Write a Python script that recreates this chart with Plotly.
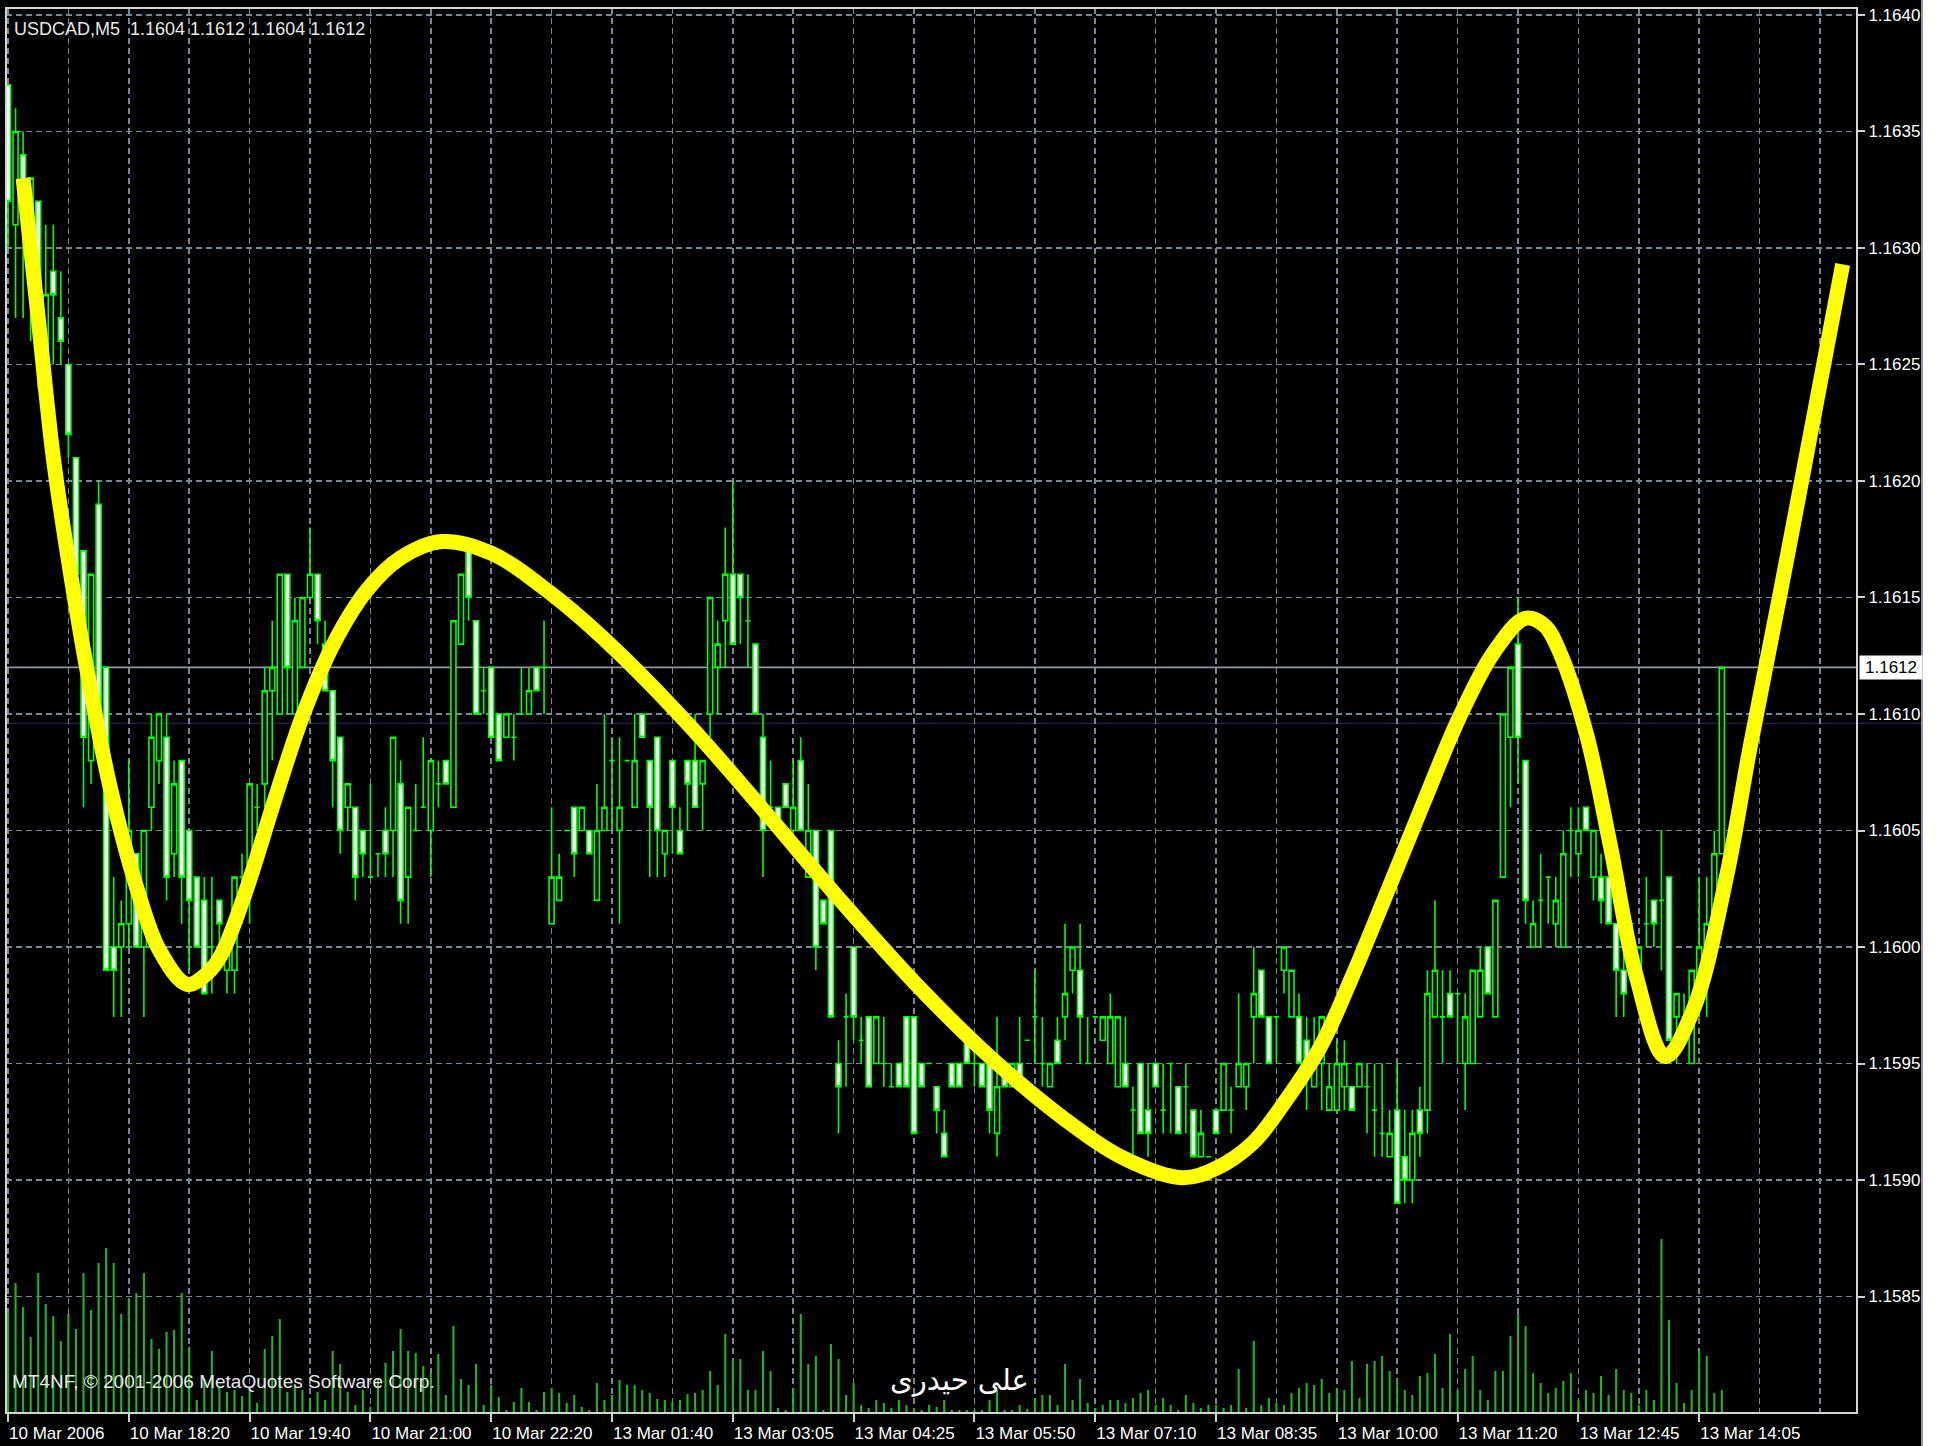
import plotly.graph_objects as go

# ---------------- data ----------------
time_labels = ["10 Mar 2006", "10 Mar 18:20", "10 Mar 19:40", "10 Mar 21:00", "10 Mar 22:20",
               "13 Mar 01:40", "13 Mar 03:05", "13 Mar 04:25", "13 Mar 05:50", "13 Mar 07:10",
               "13 Mar 08:35", "13 Mar 10:00", "13 Mar 11:20", "13 Mar 12:45", "13 Mar 14:05"]
label_bars = [0, 16, 32, 48, 64, 80, 96, 112, 128, 144, 160, 176, 192, 208, 224]
grid_bars_minor = [8, 24, 40, 56, 72, 88, 104, 120, 136, 152, 168, 184, 200, 216, 232, 240]

price_ticks = [1.1585, 1.1590, 1.1595, 1.1600, 1.1605, 1.1610,
               1.1615, 1.1620, 1.1625, 1.1630, 1.1635, 1.1640]

open_ = [
    1.1637, 1.1631, 1.1634, 1.1630, 1.1632, 1.1625, 1.1629, 1.1627, 1.1625, 1.1621,
    1.1617, 1.1608, 1.1619, 1.1612, 1.1600, 1.1600, 1.1601, 1.1604, 1.1600, 1.1606,
    1.1608, 1.1609, 1.1604, 1.1608, 1.1605, 1.1603, 1.1602, 1.1600, 1.1602, 1.1599,
    1.1599, 1.1603, 1.1603, 1.1606, 1.1607, 1.1611, 1.1610, 1.1616, 1.1610, 1.1612,
    1.1615, 1.1616, 1.1613, 1.1611, 1.1609, 1.1606, 1.1606, 1.1605, 1.1603, 1.1604,
    1.1605, 1.1605, 1.1607, 1.1603, 1.1605, 1.1606, 1.1605, 1.1607, 1.1608, 1.1606,
    1.1613, 1.1617, 1.1614, 1.1611, 1.1612, 1.1610, 1.1609, 1.1609, 1.1610, 1.1610,
    1.1612, 1.1612, 1.1601, 1.1602, 1.1605, 1.1606, 1.1605, 1.1605, 1.1602, 1.1605,
    1.1608, 1.1605, 1.1608, 1.1606, 1.1610, 1.1608, 1.1609, 1.1604, 1.1608, 1.1605,
    1.1608, 1.1608, 1.1607, 1.1610, 1.1612, 1.1614, 1.1616, 1.1616, 1.1614, 1.1613,
    1.1609, 1.1606, 1.1606, 1.1607, 1.1605, 1.1608, 1.1603, 1.1605, 1.1602, 1.1605,
    1.1595, 1.1597, 1.1600, 1.1596, 1.1597, 1.1595, 1.1595, 1.1594, 1.1595, 1.1597,
    1.1597, 1.1595, 1.1595, 1.1594, 1.1592, 1.1595, 1.1595, 1.1596, 1.1595, 1.1595,
    1.1595, 1.1592, 1.1595, 1.1594, 1.1595, 1.1596, 1.1597, 1.1595, 1.1594, 1.1596,
    1.1597, 1.1599, 1.1599, 1.1595, 1.1597, 1.1596, 1.1595, 1.1594, 1.1595, 1.1593,
    1.1595, 1.1593, 1.1595, 1.1593, 1.1595, 1.1594, 1.1594, 1.1593, 1.1591, 1.1591,
    1.1593, 1.1593, 1.1593, 1.1594, 1.1594, 1.1597, 1.1599, 1.1597, 1.1597, 1.1599,
    1.1597, 1.1597, 1.1596, 1.1594, 1.1595, 1.1593, 1.1593, 1.1594, 1.1594, 1.1594,
    1.1594, 1.1593, 1.1592, 1.1591, 1.1593, 1.1591, 1.1590, 1.1593, 1.1593, 1.1597,
    1.1597, 1.1598, 1.1598, 1.1595, 1.1595, 1.1597, 1.1600, 1.1597, 1.1603, 1.1609,
    1.1613, 1.1608, 1.1600, 1.1602, 1.1603, 1.1601, 1.1600, 1.1605, 1.1604, 1.1606,
    1.1603, 1.1603, 1.1603, 1.1601, 1.1599, 1.1601, 1.1599, 1.1601, 1.1602, 1.1602,
    1.1603, 1.1597, 1.1597, 1.1595, 1.1598, 1.1600, 1.1600, 1.1604]
high = [
    1.1637, 1.1636, 1.1635, 1.1633, 1.1632, 1.1631, 1.1631, 1.1629, 1.1625, 1.1621,
    1.1617, 1.1616, 1.1620, 1.1612, 1.1603, 1.1602, 1.1608, 1.1604, 1.1605, 1.1610,
    1.1610, 1.1610, 1.1608, 1.1608, 1.1605, 1.1603, 1.1603, 1.1603, 1.1602, 1.1601,
    1.1603, 1.1604, 1.1607, 1.1607, 1.1612, 1.1614, 1.1616, 1.1616, 1.1615, 1.1615,
    1.1618, 1.1616, 1.1614, 1.1611, 1.1609, 1.1607, 1.1606, 1.1605, 1.1607, 1.1604,
    1.1606, 1.1609, 1.1608, 1.1606, 1.1607, 1.1609, 1.1608, 1.1608, 1.1608, 1.1614,
    1.1616, 1.1617, 1.1614, 1.1612, 1.1612, 1.1610, 1.1610, 1.1610, 1.1612, 1.1612,
    1.1612, 1.1614, 1.1606, 1.1604, 1.1605, 1.1606, 1.1606, 1.1605, 1.1607, 1.1610,
    1.1609, 1.1609, 1.1608, 1.1610, 1.1610, 1.1608, 1.1609, 1.1605, 1.1608, 1.1606,
    1.1608, 1.1610, 1.1608, 1.1615, 1.1614, 1.1618, 1.1620, 1.1616, 1.1616, 1.1613,
    1.1610, 1.1608, 1.1606, 1.1607, 1.1608, 1.1609, 1.1607, 1.1605, 1.1602, 1.1605,
    1.1596, 1.1598, 1.1600, 1.1597, 1.1597, 1.1597, 1.1597, 1.1595, 1.1595, 1.1597,
    1.1597, 1.1595, 1.1595, 1.1594, 1.1593, 1.1595, 1.1595, 1.1596, 1.1596, 1.1595,
    1.1595, 1.1597, 1.1595, 1.1595, 1.1597, 1.1596, 1.1599, 1.1597, 1.1595, 1.1597,
    1.1601, 1.1600, 1.1601, 1.1597, 1.1597, 1.1597, 1.1598, 1.1597, 1.1597, 1.1594,
    1.1595, 1.1595, 1.1595, 1.1595, 1.1595, 1.1594, 1.1595, 1.1593, 1.1593, 1.1591,
    1.1593, 1.1595, 1.1594, 1.1598, 1.1595, 1.1600, 1.1599, 1.1597, 1.1597, 1.1600,
    1.1599, 1.1598, 1.1597, 1.1597, 1.1597, 1.1595, 1.1596, 1.1596, 1.1594, 1.1595,
    1.1595, 1.1595, 1.1595, 1.1593, 1.1595, 1.1593, 1.1593, 1.1594, 1.1599, 1.1602,
    1.1599, 1.1599, 1.1598, 1.1598, 1.1599, 1.1600, 1.1600, 1.1602, 1.1610, 1.1612,
    1.1615, 1.1608, 1.1602, 1.1604, 1.1603, 1.1603, 1.1605, 1.1606, 1.1606, 1.1606,
    1.1605, 1.1604, 1.1603, 1.1601, 1.1600, 1.1601, 1.1600, 1.1603, 1.1602, 1.1605,
    1.1603, 1.1598, 1.1598, 1.1599, 1.1603, 1.1603, 1.1605, 1.1612]
low = [
    1.1630, 1.1627, 1.1627, 1.1626, 1.1624, 1.1624, 1.1625, 1.1625, 1.1621, 1.1615,
    1.1606, 1.1607, 1.1609, 1.1599, 1.1597, 1.1597, 1.1600, 1.1600, 1.1597, 1.1605,
    1.1607, 1.1602, 1.1603, 1.1601, 1.1599, 1.1600, 1.1598, 1.1598, 1.1600, 1.1598,
    1.1598, 1.1601, 1.1601, 1.1605, 1.1606, 1.1608, 1.1610, 1.1610, 1.1610, 1.1612,
    1.1615, 1.1613, 1.1611, 1.1606, 1.1604, 1.1605, 1.1602, 1.1603, 1.1603, 1.1603,
    1.1603, 1.1603, 1.1601, 1.1601, 1.1605, 1.1606, 1.1603, 1.1606, 1.1607, 1.1606,
    1.1613, 1.1614, 1.1610, 1.1610, 1.1609, 1.1608, 1.1609, 1.1608, 1.1610, 1.1610,
    1.1611, 1.1610, 1.1601, 1.1602, 1.1605, 1.1603, 1.1605, 1.1604, 1.1602, 1.1605,
    1.1605, 1.1601, 1.1608, 1.1606, 1.1609, 1.1603, 1.1603, 1.1603, 1.1604, 1.1604,
    1.1605, 1.1606, 1.1605, 1.1609, 1.1610, 1.1612, 1.1613, 1.1613, 1.1612, 1.1610,
    1.1603, 1.1606, 1.1605, 1.1606, 1.1605, 1.1605, 1.1603, 1.1599, 1.1601, 1.1597,
    1.1592, 1.1594, 1.1596, 1.1595, 1.1594, 1.1595, 1.1594, 1.1594, 1.1594, 1.1594,
    1.1592, 1.1594, 1.1595, 1.1592, 1.1591, 1.1594, 1.1594, 1.1595, 1.1594, 1.1594,
    1.1592, 1.1591, 1.1594, 1.1594, 1.1594, 1.1596, 1.1595, 1.1594, 1.1594, 1.1595,
    1.1596, 1.1598, 1.1595, 1.1595, 1.1597, 1.1596, 1.1595, 1.1594, 1.1594, 1.1591,
    1.1592, 1.1591, 1.1594, 1.1592, 1.1592, 1.1592, 1.1592, 1.1591, 1.1591, 1.1591,
    1.1592, 1.1593, 1.1592, 1.1594, 1.1593, 1.1595, 1.1597, 1.1595, 1.1595, 1.1598,
    1.1597, 1.1595, 1.1593, 1.1594, 1.1593, 1.1593, 1.1593, 1.1593, 1.1593, 1.1594,
    1.1592, 1.1591, 1.1591, 1.1591, 1.1589, 1.1589, 1.1589, 1.1591, 1.1592, 1.1597,
    1.1595, 1.1597, 1.1595, 1.1593, 1.1595, 1.1597, 1.1598, 1.1597, 1.1603, 1.1606,
    1.1607, 1.1601, 1.1600, 1.1600, 1.1601, 1.1600, 1.1600, 1.1603, 1.1603, 1.1605,
    1.1602, 1.1601, 1.1601, 1.1597, 1.1597, 1.1599, 1.1598, 1.1600, 1.1600, 1.1599,
    1.1596, 1.1595, 1.1596, 1.1595, 1.1597, 1.1597, 1.1600, 1.1604]
close = [
    1.1632, 1.1635, 1.1632, 1.1633, 1.1627, 1.1628, 1.1628, 1.1626, 1.1622, 1.1616,
    1.1609, 1.1616, 1.1610, 1.1599, 1.1599, 1.1601, 1.1605, 1.1600, 1.1605, 1.1609,
    1.1610, 1.1603, 1.1607, 1.1603, 1.1602, 1.1600, 1.1598, 1.1600, 1.1601, 1.1600,
    1.1603, 1.1603, 1.1607, 1.1606, 1.1611, 1.1612, 1.1616, 1.1612, 1.1614, 1.1615,
    1.1616, 1.1614, 1.1611, 1.1608, 1.1605, 1.1607, 1.1603, 1.1604, 1.1603, 1.1604,
    1.1604, 1.1609, 1.1602, 1.1606, 1.1605, 1.1606, 1.1608, 1.1607, 1.1607, 1.1614,
    1.1616, 1.1615, 1.1610, 1.1611, 1.1609, 1.1608, 1.1610, 1.1609, 1.1610, 1.1611,
    1.1611, 1.1612, 1.1603, 1.1603, 1.1605, 1.1604, 1.1606, 1.1604, 1.1605, 1.1606,
    1.1608, 1.1606, 1.1608, 1.1608, 1.1609, 1.1606, 1.1605, 1.1605, 1.1606, 1.1604,
    1.1607, 1.1606, 1.1608, 1.1615, 1.1613, 1.1616, 1.1613, 1.1615, 1.1614, 1.1610,
    1.1605, 1.1606, 1.1605, 1.1606, 1.1606, 1.1605, 1.1605, 1.1600, 1.1601, 1.1597,
    1.1594, 1.1597, 1.1597, 1.1596, 1.1594, 1.1597, 1.1595, 1.1594, 1.1594, 1.1594,
    1.1592, 1.1594, 1.1595, 1.1593, 1.1591, 1.1594, 1.1594, 1.1595, 1.1595, 1.1594,
    1.1593, 1.1594, 1.1594, 1.1595, 1.1594, 1.1596, 1.1597, 1.1595, 1.1595, 1.1595,
    1.1598, 1.1600, 1.1597, 1.1595, 1.1597, 1.1597, 1.1597, 1.1597, 1.1594, 1.1593,
    1.1592, 1.1592, 1.1594, 1.1593, 1.1595, 1.1592, 1.1594, 1.1591, 1.1592, 1.1591,
    1.1592, 1.1595, 1.1593, 1.1595, 1.1595, 1.1598, 1.1597, 1.1595, 1.1597, 1.1600,
    1.1599, 1.1595, 1.1595, 1.1595, 1.1597, 1.1594, 1.1595, 1.1595, 1.1593, 1.1595,
    1.1594, 1.1593, 1.1592, 1.1592, 1.1589, 1.1590, 1.1592, 1.1592, 1.1598, 1.1599,
    1.1597, 1.1597, 1.1598, 1.1597, 1.1599, 1.1599, 1.1598, 1.1602, 1.1610, 1.1612,
    1.1609, 1.1602, 1.1601, 1.1602, 1.1603, 1.1602, 1.1604, 1.1605, 1.1605, 1.1605,
    1.1605, 1.1602, 1.1601, 1.1599, 1.1598, 1.1601, 1.1600, 1.1601, 1.1601, 1.1602,
    1.1596, 1.1598, 1.1597, 1.1599, 1.1600, 1.1601, 1.1604, 1.1612]
volume = [
    101, 130, 106, 76, 140, 109, 97, 72, 99, 84,
    140, 103, 150, 165, 150, 99, 115, 120, 140, 74,
    64, 81, 83, 120, 66, 13, 34, 62, 25, 21,
    23, 17, 24, 10, 64, 77, 94, 21, 29, 23,
    13, 21, 13, 62, 49, 21, 8, 23, 6, 34,
    50, 62, 84, 62, 60, 47, 40, 59, 18, 87,
    34, 28, 49, 8, 28, 16, 3, 11, 25, 11,
    3, 21, 25, 20, 10, 18, 6, 3, 30, 13,
    18, 33, 28, 28, 23, 20, 14, 13, 11, 13,
    19, 20, 23, 42, 28, 79, 54, 54, 23, 23,
    62, 42, 5, 3, 25, 99, 49, 57, 3, 69,
    54, 18, 30, 8, 5, 13, 10, 5, 13, 8,
    5, 3, 8, 6, 13, 3, 3, 3, 3, 3,
    13, 23, 3, 3, 8, 4, 15, 18, 18, 8,
    49, 13, 34, 10, 5, 8, 13, 13, 10, 15,
    20, 23, 8, 15, 8, 3, 18, 10, 5, 8,
    8, 5, 8, 44, 5, 72, 8, 15, 10, 8,
    20, 25, 30, 28, 34, 20, 25, 23, 52, 15,
    49, 52, 57, 42, 34, 23, 18, 37, 40, 59,
    25, 79, 23, 44, 57, 23, 13, 42, 42, 77,
    99, 87, 40, 30, 20, 25, 32, 40, 13, 23,
    20, 37, 18, 44, 23, 20, 8, 23, 13, 174,
    93, 30, 10, 23, 62, 57, 20, 23]

# hand-drawn yellow curve: anchor points (bar position, price)
curve_bar = [2.0, 4.0, 6.0, 8.2, 10.4, 13.5, 17.0, 20.0, 23.7, 26.5, 28.3, 31.4, 35.6,
             39.0, 43.1, 47.5, 52.0, 57.5, 64.0, 71.8, 80.0, 90.0, 100.0, 110.0, 120.0,
             130.0, 140.0, 148.0, 155.5, 160.0, 164.9, 169.0, 173.8, 178.0, 182.6, 187.5,
             192.3, 196.7, 200.9, 203.5, 205.6, 209.1, 212.2, 215.7, 219.5, 223.2, 227.6,
             230.7, 234.8, 238.5, 243.0]
curve_price = [1.16330, 1.16270, 1.16210, 1.16162, 1.16120, 1.16069, 1.16026, 1.15999,
               1.15984, 1.15989, 1.15997, 1.16023, 1.16066, 1.16099, 1.16130, 1.16153,
               1.16167, 1.16174, 1.16169, 1.16152, 1.16129, 1.16096, 1.16059, 1.16021,
               1.15985, 1.15953, 1.15926, 1.15909, 1.15901, 1.15905, 1.15916, 1.15933,
               1.15957, 1.15987, 1.16023, 1.16062, 1.16099, 1.16126, 1.16141, 1.16138,
               1.16126, 1.16091, 1.16044, 1.15987, 1.15953, 1.15973, 1.16030, 1.16085,
               1.16153, 1.16216, 1.16293]

header_text = "USDCAD,M5  1.1604 1.1612 1.1604 1.1612"
copyright_text = "MT4NF, © 2001-2006 MetaQuotes Software Corp."
author_text = "علی حیدری"
bid_price = 1.1612
ask_price = 1.16096

# ---------------- figure ----------------
W, H = 1943, 1446
ML, MR, MT, MB = 6, 86, 8, 33
plot_w = W - ML - MR
plot_h = H - MT - MB

FONT = "Liberation Sans, Arial, sans-serif"
GRID = "#778899"
LIME = "#00ff00"

bars = list(range(len(open_)))

fig = go.Figure()

fig.add_trace(go.Bar(
    x=bars, y=volume, width=0.28, yaxis="y2",
    marker=dict(color="#1fb41f", line=dict(width=0)),
    hoverinfo="skip"))

fig.add_trace(go.Candlestick(
    x=bars, open=open_, high=high, low=low, close=close,
    increasing=dict(line=dict(color=LIME, width=1.6), fillcolor="#000000"),
    decreasing=dict(line=dict(color=LIME, width=1.6), fillcolor="#ffffff"),
    whiskerwidth=0, hoverinfo="skip"))

fig.add_trace(go.Scatter(
    x=curve_bar, y=curve_price, mode="lines",
    line=dict(color="#ffff00", width=15, shape="spline", smoothing=1.0),
    hoverinfo="skip"))


def px_to_paper_x(px):
    return (px - ML) / plot_w


def px_to_paper_y(py):
    return 1 - (py - MT) / plot_h


fig.update_layout(
    width=W, height=H,
    margin=dict(l=ML, r=MR, t=MT, b=MB, pad=0, autoexpand=False),
    paper_bgcolor="#000000", plot_bgcolor="#000000",
    showlegend=False,
    boxgap=0.05, boxgroupgap=0.3,
    xaxis=dict(
        range=[-0.265, 244.9], automargin=False,
        tickmode="array", tickvals=label_bars, ticktext=time_labels,
        tickangle=0,
        ticks="outside", ticklen=8, tickwidth=2, tickcolor="#d0d0d0",
        ticklabelposition="outside right", ticklabelstandoff=5,
        tickfont=dict(family=FONT, size=17, color="#ffffff"),
        showgrid=True, gridcolor=GRID, gridwidth=1.5, griddash="6px,4px",
        minor=dict(tickmode="array", tickvals=grid_bars_minor, showgrid=True,
                   gridcolor=GRID, gridwidth=1.5, griddash="6px,4px", ticks=""),
        zeroline=False, showline=False,
        rangeslider=dict(visible=False), fixedrange=True),
    yaxis=dict(
        range=[1.15800, 1.16403], side="right", automargin=False,
        tickmode="array", tickvals=price_ticks,
        ticktext=["%.4f" % v for v in price_ticks],
        ticks="outside", ticklen=7, tickwidth=2, tickcolor="#d0d0d0",
        tickfont=dict(family=FONT, size=17, color="#ffffff"),
        showgrid=True, gridcolor=GRID, gridwidth=1.5, griddash="6px,4px",
        zeroline=False, showline=False, fixedrange=True),
    yaxis2=dict(overlaying="y", range=[0, plot_h], visible=False, fixedrange=True,
                automargin=False),
)

shapes = [
    dict(type="line", xref="paper", yref="y", x0=0, x1=1, y0=bid_price, y1=bid_price,
         line=dict(color="#8f98a3", width=1.6), layer="below"),
    dict(type="line", xref="paper", yref="y", x0=0, x1=px_to_paper_x(1922), y0=ask_price, y1=ask_price,
         line=dict(color="#2b2b66", width=1), layer="below"),
    dict(type="rect", xref="paper", yref="paper", x0=0, x1=1, y0=0, y1=1,
         line=dict(color="#d4d4d4", width=2), fillcolor="rgba(0,0,0,0)"),
    dict(type="rect", xref="paper", yref="paper",
         x0=px_to_paper_x(1923), x1=px_to_paper_x(1950), y0=px_to_paper_y(1450), y1=px_to_paper_y(-5),
         line=dict(width=0), fillcolor="#ffffff"),
    dict(type="line", xref="paper", yref="paper",
         x0=px_to_paper_x(1922), x1=px_to_paper_x(1922), y0=px_to_paper_y(1446), y1=px_to_paper_y(0),
         line=dict(color="#c8c8e8", width=1.5)),
]
fig.update_layout(shapes=shapes)

annotations = [
    dict(text=header_text, xref="paper", yref="paper",
         x=px_to_paper_x(12), y=px_to_paper_y(29), xanchor="left", yanchor="middle",
         showarrow=False, font=dict(family=FONT, size=18, color="#e8e8e8")),
    dict(text=copyright_text, xref="paper", yref="paper",
         x=px_to_paper_x(10), y=px_to_paper_y(1381), xanchor="left", yanchor="middle",
         showarrow=False, font=dict(family=FONT, size=19, color="#e8e8e8")),
    dict(text=author_text, xref="paper", yref="paper",
         x=px_to_paper_x(960), y=px_to_paper_y(1380), xanchor="center", yanchor="middle",
         showarrow=False, font=dict(family="DejaVu Sans, Noto Sans, sans-serif", size=29, color="#ffffff")),
    dict(text="%.4f" % bid_price, xref="paper", yref="y",
         x=px_to_paper_x(1859), y=bid_price, xanchor="left", yanchor="middle",
         showarrow=False, bgcolor="#ffffff", borderpad=2, width=58,
         font=dict(family=FONT, size=17, color="#000000")),
]
fig.update_layout(annotations=annotations)

fig.write_html("out.html", include_plotlyjs=True,
               config={"displayModeBar": False, "staticPlot": True},
               post_script="document.body.style.margin='0';document.body.style.overflow='hidden';"
                           "document.body.style.background='#000';")
